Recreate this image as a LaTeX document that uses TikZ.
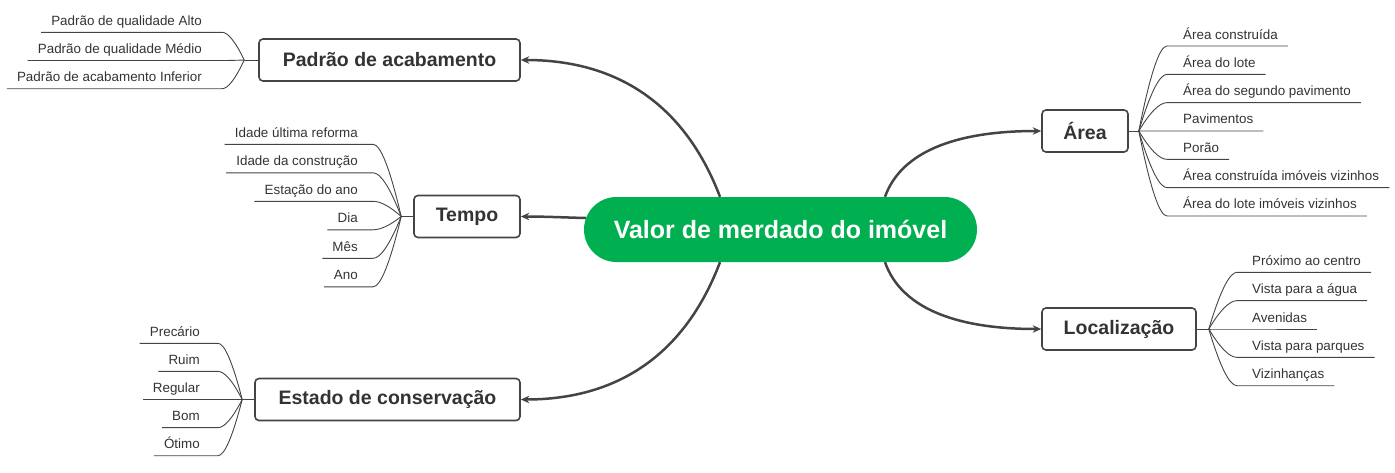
\documentclass[tikz,border=0pt]{standalone}
\usepackage{fontspec}
\setmainfont{Liberation Sans}
\usetikzlibrary{arrows.meta,calc}
\definecolor{mygreen}{RGB}{0,176,80}
\definecolor{linegray}{RGB}{68,68,68}
\definecolor{txtgray}{RGB}{51,51,51}
\begin{document}
\begin{tikzpicture}[x=1pt,y=-1pt,
 central/.style={fill=mygreen, rounded corners=32.5pt, minimum width=393pt, minimum height=65pt, inner sep=0pt, text=white, font=\fontsize{25}{30}\selectfont\bfseries},
 topic/.style={draw=linegray, line width=1.6pt, fill=white, rounded corners=4pt, minimum height=42pt, inner sep=0pt, text=txtgray, font=\fontsize{19.5}{23}\selectfont\bfseries},
 leafL/.style={anchor=base east, inner sep=0pt, text=txtgray, font=\fontsize{13.4}{16}\selectfont},
 leafR/.style={anchor=base west, inner sep=0pt, text=txtgray, font=\fontsize{13.4}{16}\selectfont},
 conn/.style={draw=linegray, line width=2.5pt, -{Stealth[length=8.5pt,width=7.5pt]}},
 leafline/.style={draw=linegray, line width=0.9pt},
 leafto/.style={to path={let \p1=(\tikztostart), \p2=(\tikztotarget) in .. controls (\x1+0.4*\x2-0.4*\x1, \y1+0.667*\y2-0.667*\y1) and (\x2-0.267*\x2+0.267*\x1, \y2) .. (\tikztotarget)}}
]
\useasboundingbox (0,0) rectangle (1395,472);

% central topic
\node[central] (c) at (780.5,229.5) {Valor de merdado do imóvel};

% main topics
\node[topic, minimum width=261pt] (pa) at (389.5,60) {Padrão de acabamento};
\node[topic, minimum width=106pt] (tp) at (467,216.5) {Tempo};
\node[topic, minimum width=265pt] (es) at (387.5,399.5) {Estado de conservação};
\node[topic, minimum width=86pt] (ar) at (1085,131) {Área};
\node[topic, minimum width=154pt] (lo) at (1119,329) {Localização};

% main connectors
\draw[conn] ($(c.north)+(-60.5,0)$) .. controls (685.3,105.7) and (618.7,60) .. (pa.east);
\draw[conn] ($(c.south)+(-60.5,0)$) .. controls (685.3,353.7) and (618.7,399.5) .. (es.east);
\draw[conn] ($(c.north)+(104.5,0)$) .. controls (900.7,153) and (953,131) .. (ar.west);
\draw[conn] ($(c.south)+(104.5,0)$) .. controls (900.7,306.7) and (953,329) .. (lo.west);
\draw[conn] ($(c.west)+(2,-11.5)$) .. controls (565,217.5) and (545,216.5) .. (tp.east);

% Padrão de acabamento
\coordinate (jP) at ($(pa.west)+(-14,0)$);
\draw[leafline] (jP) -- (pa.west);
\foreach \lbl [count=\i] in {Padrão de qualidade Alto, Padrão de qualidade Médio, Padrão de acabamento Inferior} {
  \node[leafL] (p\i) at (202, {32.3+28.2*(\i-1)-7}) {\lbl};
  \coordinate (pe\i) at ($(p\i.base east)+(20,7)$);
  \coordinate (po\i) at ($(p\i.base west)+(-10,7)$);
  \draw[leafline] (jP) to[leafto] (pe\i) -- (po\i);
}

% Tempo
\coordinate (jT) at ($(tp.west)+(-12,0)$);
\draw[leafline] (jT) -- (tp.west);
\foreach \lbl [count=\i] in {Idade última reforma, Idade da construção, Estação do ano, Dia, Mês, Ano} {
  \node[leafL] (t\i) at (358, {144.3+28.5*(\i-1)-7}) {\lbl};
  \coordinate (te\i) at ($(t\i.base east)+(15,7)$);
  \coordinate (tx\i) at ($(t\i.base west)+(-10,7)$);
  \draw[leafline] (jT) to[leafto] (te\i) -- (tx\i);
}

% Estado de conservação
\coordinate (jE) at ($(es.west)+(-12,0)$);
\draw[leafline] (jE) -- (es.west);
\foreach \lbl [count=\i] in {Precário, Ruim, Regular, Bom, Ótimo} {
  \node[leafL] (s\i) at (200, {343.3+28.1*(\i-1)-7}) {\lbl};
  \coordinate (se\i) at ($(s\i.base east)+(18,7)$);
  \coordinate (so\i) at ($(s\i.base west)+(-10,7)$);
  \draw[leafline] (jE) to[leafto] (se\i) -- (so\i);
}

% Área
\coordinate (jA) at ($(ar.east)+(10,0)$);
\draw[leafline] (jA) -- (ar.east);
\foreach \lbl [count=\i] in {Área construída, Área do lote, Área do segundo pavimento, Pavimentos, Porão, Área construída imóveis vizinhos, Área do lote imóveis vizinhos} {
  \node[leafR] (a\i) at (1183, {46+28.33*(\i-1)-7}) {\lbl};
  \coordinate (ae\i) at ($(a\i.base west)+(-16,7)$);
  \coordinate (ao\i) at ($(a\i.base east)+(10,7)$);
  \draw[leafline] (jA) to[leafto] (ae\i) -- (ao\i);
}

% Localização
\coordinate (jL) at ($(lo.east)+(12,0)$);
\draw[leafline] (jL) -- (lo.east);
\foreach \lbl [count=\i] in {Próximo ao centro, Vista para a água, Avenidas, Vista para parques, Vizinhanças} {
  \node[leafR] (l\i) at (1252, {272.3+28.35*(\i-1)-7}) {\lbl};
  \coordinate (le\i) at ($(l\i.base west)+(-15,7)$);
  \coordinate (lx\i) at ($(l\i.base east)+(10,7)$);
  \draw[leafline] (jL) to[leafto] (le\i) -- (lx\i);
}
\end{tikzpicture}
\end{document}
